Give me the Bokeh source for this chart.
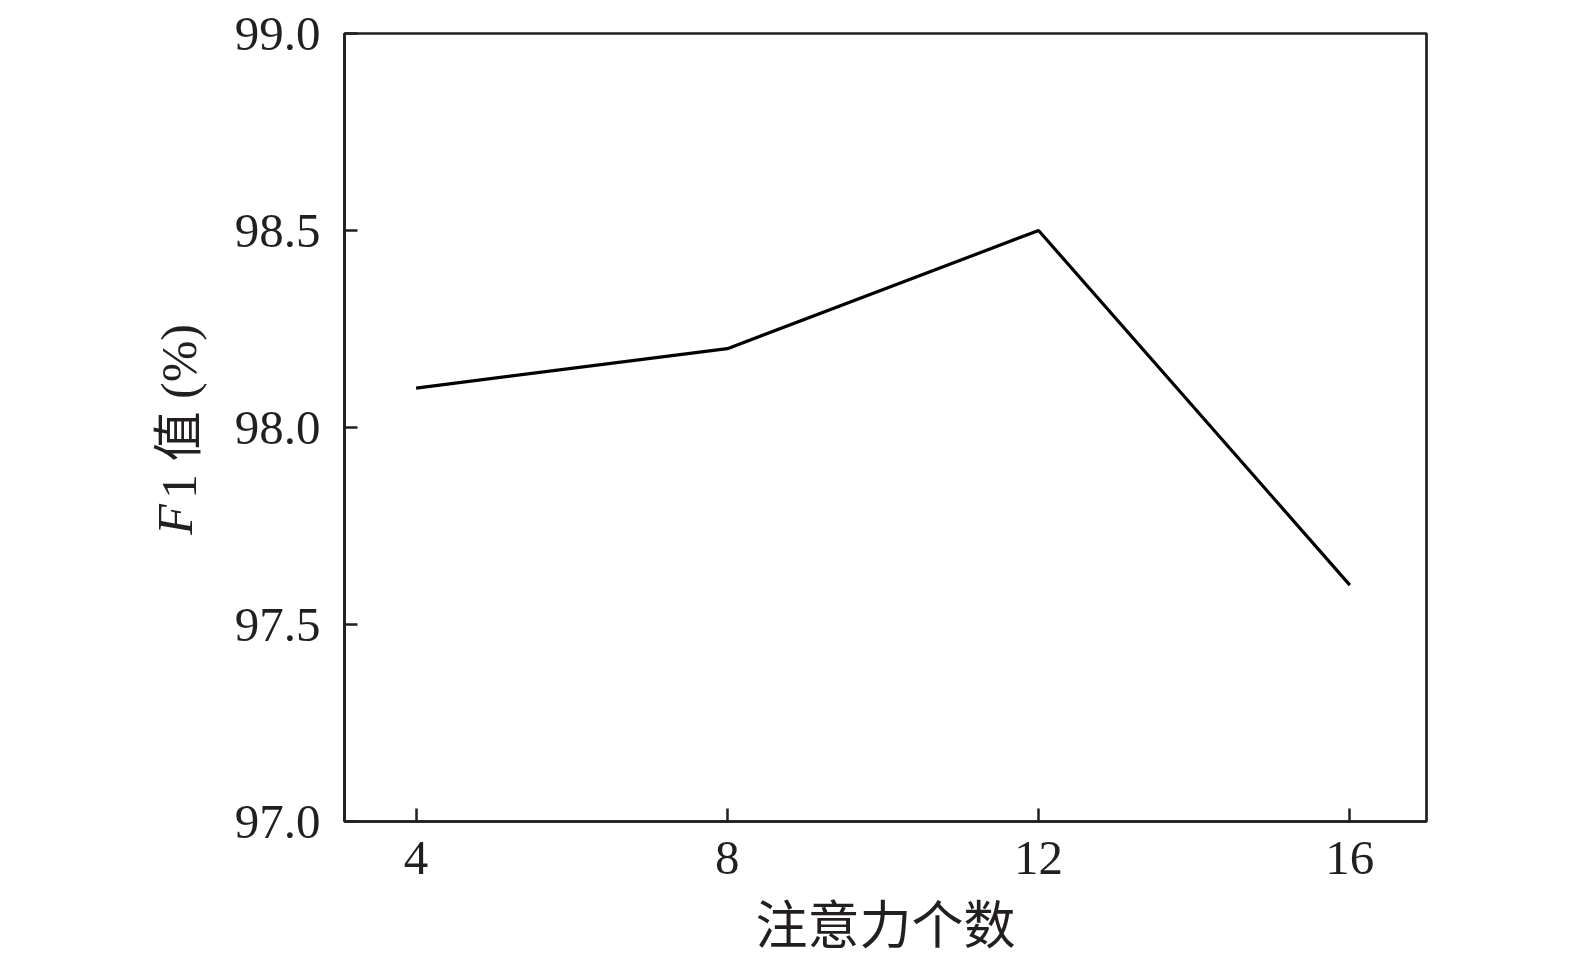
from bokeh.plotting import figure
from bokeh.models import Range1d, FixedTicker, LinearAxis, CustomJSTickFormatter
from bokeh.embed import file_html
from bokeh.resources import INLINE

heads = [4, 8, 12, 16]
f1 = [98.1, 98.2, 98.5, 97.6]
x_ticks = [4, 8, 12, 16]
y_ticks = [97.0, 97.5, 98.0, 98.5, 99.0]
x_title = "注意力个数"
y_title_italic = "F"
y_title_rest = "1 值 (%)"

INK = "#231f20"
SERIF = "'Liberation Serif', 'Noto Sans CJK SC'"

p = figure(width=1567, height=957, output_backend="svg", toolbar_location=None,
           x_range=Range1d(3.08, 16.985), y_range=Range1d(97.0, 99.0),
           min_border_left=344, min_border_right=141, min_border_top=33, min_border_bottom=136)
# helper range in pixels above the bottom of the plotting area, used to place the y title pieces
p.extra_y_ranges = {"px": Range1d(0, 788)}
p.background_fill_color = "white"
p.border_fill_color = "white"
p.grid.visible = False
p.outline_line_color = INK
p.outline_line_width = 2.7

p.line(heads, f1, line_color="black", line_width=3.2)

for ax in (p.xaxis[0], p.yaxis[0]):
    ax.axis_line_color = INK
    ax.axis_line_width = 2.7
    ax.major_tick_line_color = INK
    ax.major_tick_line_width = 2.5
    ax.major_tick_in = 13
    ax.major_tick_out = 0
    ax.minor_tick_line_color = None
    ax.major_label_text_font = SERIF
    ax.major_label_text_font_size = "49px"
    ax.major_label_text_color = INK

p.xaxis[0].ticker = FixedTicker(ticks=x_ticks)
p.yaxis[0].ticker = FixedTicker(ticks=y_ticks)
p.yaxis[0].formatter = CustomJSTickFormatter(code="return tick.toFixed(1);")
p.xaxis[0].major_label_standoff = 20
p.yaxis[0].major_label_standoff = 24

p.xaxis[0].axis_label = x_title
p.xaxis[0].axis_label_text_font = SERIF
p.xaxis[0].axis_label_text_font_size = "52px"
p.xaxis[0].axis_label_text_font_style = "normal"
p.xaxis[0].axis_label_text_color = INK
p.xaxis[0].axis_label_standoff = 21


def title_axis(text, pos, standoff, style):
    ax = LinearAxis(y_range_name="px", ticker=FixedTicker(ticks=[pos]),
                    major_label_overrides={pos: text})
    ax.axis_line_color = None
    ax.major_tick_line_color = None
    ax.minor_tick_line_color = None
    ax.major_tick_out = 0
    ax.major_tick_in = 0
    ax.major_label_orientation = "vertical"
    ax.major_label_standoff = standoff
    ax.major_label_text_font = SERIF
    ax.major_label_text_font_size = "50px"
    ax.major_label_text_font_style = style
    ax.major_label_text_color = INK
    p.add_layout(ax, "left")


title_axis(y_title_rest, 410, 25, "normal")
title_axis(y_title_italic, 302, -55, "italic")

open("out.html", "w").write(file_html(p, INLINE))
